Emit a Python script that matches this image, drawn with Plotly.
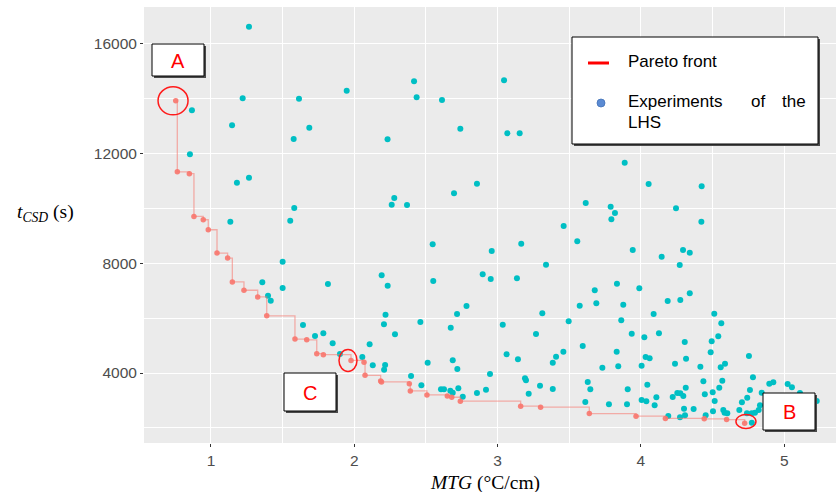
import plotly.graph_objects as go

# ---------------- data ----------------
pareto_mtg = [0.754, 0.765, 0.849, 0.881, 0.946, 0.981, 1.042, 1.116, 1.149, 1.230,
              1.326, 1.389, 1.586, 1.668, 1.738, 1.784, 1.977, 2.068, 2.075, 2.184,
              2.190, 2.384, 2.391, 2.507, 2.649, 2.680, 2.740, 3.161, 3.300, 3.640,
              3.966, 4.171, 4.442, 4.598, 4.724]
pareto_t = [13927, 11335, 11270, 9709, 9589, 9225, 8375, 8193, 7320, 7018,
            6775, 6084, 5236, 5211, 4703, 4667, 4460, 4389, 3916, 3709,
            3673, 3611, 3345, 3200, 3164, 3116, 2971, 2789, 2753, 2520,
            2425, 2345, 2330, 2302, 2171]

lhs_mtg = [1.265, 1.221, 1.614, 0.867, 1.147, 1.686, 1.577, 0.853, 1.265,
           1.181, 1.581, 1.553, 1.135, 1.500, 1.358, 1.500, 1.816, 1.398, 1.417,
           1.642, 1.784, 1.726, 1.849, 1.900,
           2.261, 2.368, 2.279, 2.547, 2.959, 3.165, 2.191, 2.233, 2.551, 2.896,
           2.952, 3.135, 2.783, 2.218, 2.717, 2.207, 2.461, 2.673, 3.036, 2.284,
           2.107, 2.056, 2.129, 2.215, 2.208, 2.512, 2.687, 2.719, 3.063, 3.142,
           2.947, 3.191, 3.198, 2.396, 2.468, 2.605, 2.626, 2.670, 2.687, 2.726,
           2.757, 2.856, 2.919, 3.217,
           1.947, 2.417, 2.435, 2.612, 3.045, 2.740, 2.232, 3.068, 3.154, 3.887,
           2.856, 2.696,
           4.054, 4.424, 3.789, 3.819, 3.794, 4.245, 4.422, 3.943, 4.294, 4.341,
           4.145, 4.271, 3.833, 3.989, 4.341, 3.877, 4.187, 4.275,
           3.615, 3.461, 3.556, 3.338, 3.678, 3.573, 3.689, 3.312, 3.496, 3.863,
           4.089, 4.512, 4.561, 3.268, 3.936, 4.024, 4.126, 4.540, 4.494, 4.306,
           3.594, 3.459, 3.408, 3.385, 3.831, 4.033, 4.061, 4.315, 4.487, 3.731,
           3.842, 4.005, 4.238, 4.415, 4.557, 4.587, 3.296, 3.385, 3.629, 3.647,
           3.908, 4.045, 4.436, 4.568, 4.547, 4.501, 4.446, 4.313, 4.254, 4.275,
           4.296, 4.222, 4.005, 4.038, 4.108, 4.096, 3.612, 3.777, 3.903, 4.515,
           4.301, 4.368, 4.308, 4.191, 4.273, 4.452, 4.503, 4.575, 4.584, 4.603,
           4.754, 4.782, 4.761, 4.742, 4.705, 4.843, 4.896, 4.924, 5.024, 5.054,
           5.110, 4.831, 4.822, 4.796, 4.773, 4.740, 4.687, 4.774, 5.227]
lhs_t = [16630, 14018, 14004, 13580, 13033, 12946, 12534, 11976, 11123,
         10940, 10018, 9554, 9518, 8059, 7308, 7100, 7246, 6819, 6637,
         5751, 5448, 5349, 5083, 4693,
         10138, 10127, 10382, 8694, 8449, 8716, 7563, 7184, 7355, 7600,
         7428, 7454, 6443, 6126, 6152, 5775, 5860, 5653, 5762, 5411,
         5047, 4583, 4281, 4292, 4121, 4376, 4462, 4146, 4681, 4500,
         3964, 3807, 3734, 3891, 3551, 3405, 3405, 3355, 3282, 3442,
         3136, 3271, 3391, 3245,
         14295, 14638, 14055, 13956, 14675, 12910, 12523, 12742, 12742, 11670,
         10904, 10553,
         10893, 10809, 10065, 9835, 9605, 10006, 9518, 8486, 8486, 8387,
         8242, 7939, 7257, 7089, 6907, 6491, 6626, 6662,
         10200, 9361, 8803, 7950, 7016, 6455, 6540, 6177, 5885, 5921,
         6152, 6163, 5812, 5422, 5433, 5302, 5448, 5338, 5156, 5131,
         4985, 4777, 4595, 4376, 4777, 4583, 4536, 4522, 4755, 4193,
         4244, 4266, 4339, 4230, 4208, 4339, 3537, 3416, 3672, 3405,
         3405, 3573, 3697, 3719, 3464, 3296, 3223, 3464, 3271, 3260,
         3161, 3125, 3015, 2968, 3114, 2822, 2942, 2858, 2858, 2979,
         2698, 2687, 2457, 2432, 2384, 2457, 2603, 2651, 2552, 2530,
         4620, 3843, 3380, 3099, 2931, 3282, 3610, 3661, 3599, 3478,
         3271, 2822, 2651, 2552, 2530, 2530, 2651, 2190, 2979]

x_ticks = [1, 2, 3, 4, 5]
y_ticks = [4000, 8000, 12000, 16000]
x_range = [0.5325, 5.3615]
y_range = [1447, 17348]

marked_idx = {"A": 0, "C": 16, "B": 34}

# ---------------- layout helpers ----------------
W, H = 836, 492
ML, MT, MR, MB = 144, 7, 0, 49
PW, PH = W - ML - MR, H - MT - MB


def px(x):
    return (x - ML) / PW


def py(y):
    return (H - MB - y) / PH


fig = go.Figure()

fig.add_trace(go.Scatter(
    x=lhs_mtg, y=lhs_t, mode="markers",
    marker=dict(color="#00BFC4", size=6, line=dict(width=0)),
    showlegend=False, hoverinfo="x+y"))

fig.add_trace(go.Scatter(
    x=pareto_mtg, y=pareto_t, mode="lines", line_shape="hv",
    line=dict(color="rgba(248,118,109,0.55)", width=1.3),
    showlegend=False, hoverinfo="skip"))

fig.add_trace(go.Scatter(
    x=pareto_mtg, y=pareto_t, mode="markers",
    marker=dict(color="rgba(248,118,109,0.9)", size=5.5, line=dict(width=0)),
    showlegend=False, hoverinfo="x+y"))

shapes = []


def box(x0, y0, x1, y1, shadow=2):
    shapes.append(dict(type="rect", xref="paper", yref="paper",
                       x0=px(x0 + shadow), x1=px(x1 + shadow),
                       y0=py(y0 + shadow), y1=py(y1 + shadow),
                       fillcolor="#4a4a4a", line=dict(width=0), layer="above"))
    shapes.append(dict(type="rect", xref="paper", yref="paper",
                       x0=px(x0), x1=px(x1), y0=py(y0), y1=py(y1),
                       fillcolor="white", line=dict(color="black", width=1),
                       layer="above"))


# legend box
box(572, 37, 818, 144)
shapes.append(dict(type="line", xref="paper", yref="paper",
                   x0=px(588), x1=px(609), y0=py(63), y1=py(63),
                   line=dict(color="#FF0000", width=3), layer="above"))
shapes.append(dict(type="circle", xref="paper", yref="paper",
                   x0=px(597), x1=px(605), y0=py(99), y1=py(107),
                   fillcolor="#5B8BD3", line=dict(color="#4372B8", width=0.8),
                   layer="above"))

# label boxes
box(152, 44, 204, 76)
box(284, 373, 336, 411)
box(763, 393, 815, 430)

# circles around marked pareto points (pixel sized, anchored on data)
circ = {"A": (-17.7, 12.3, -14, 14), "C": (-12, 6, -11, 11), "B": (-8.7, 11.3, -8.7, 5.3)}
for k, (ax0, ax1, ay0, ay1) in circ.items():
    i = marked_idx[k]
    shapes.append(dict(type="circle", xref="x", yref="y",
                       xsizemode="pixel", ysizemode="pixel",
                       xanchor=pareto_mtg[i], yanchor=pareto_t[i],
                       x0=ax0, x1=ax1, y0=-ay1, y1=-ay0,
                       line=dict(color="#FF1A1A", width=1.5), layer="above"))

annotations = []


def txt(s, x, y, size=17, color="black", xanchor="left", family="Liberation Sans"):
    annotations.append(dict(text=s, x=px(x), y=py(y), xref="paper", yref="paper",
                            xanchor=xanchor, yanchor="middle", showarrow=False,
                            font=dict(family=family, size=size, color=color)))


txt("Pareto front", 626, 62)
txt("Experiments", 626, 101)
txt("of", 749, 101)
txt("the", 780, 101)
txt("LHS", 626, 123)

txt("A", 178, 61, size=20, color="#FF0000", xanchor="center")
txt("C", 310, 393, size=20, color="#FF0000", xanchor="center")
txt("B", 789, 412, size=20, color="#FF0000", xanchor="center")

txt("<i>t</i><sub><i>CSD</i></sub> (s)", 45, 213, size=19.5, xanchor="center",
    family="Liberation Serif")
txt("<i>MTG</i> (°C/cm)", 485, 483, size=19.5, xanchor="center",
    family="Liberation Serif")

fig.update_layout(
    width=W, height=H,
    margin=dict(l=ML, r=MR, t=MT, b=MB, pad=0),
    paper_bgcolor="white", plot_bgcolor="#EBEBEB",
    shapes=shapes, annotations=annotations,
    showlegend=False,
    font=dict(family="Liberation Sans"),
)

fig.update_xaxes(range=x_range, tickmode="array", tickvals=x_ticks,
                 ticktext=[str(v) for v in x_ticks],
                 showgrid=True, gridcolor="white", gridwidth=1.1,
                 minor=dict(dtick=0.5, tick0=0.5, showgrid=True, gridcolor="white",
                            gridwidth=0.5, ticklen=0),
                 ticks="outside", ticklen=3, tickcolor="#333333", tickwidth=1,
                 tickfont=dict(family="Liberation Sans", size=15.5, color="#4D4D4D"),
                 zeroline=False, showline=False)
fig.update_yaxes(range=y_range, tickmode="array", tickvals=y_ticks,
                 ticktext=[str(v) for v in y_ticks],
                 showgrid=True, gridcolor="white", gridwidth=1.1,
                 minor=dict(dtick=2000, tick0=0, showgrid=True, gridcolor="white",
                            gridwidth=0.5, ticklen=0),
                 ticks="outside", ticklen=3, tickcolor="#333333", tickwidth=1,
                 tickfont=dict(family="Liberation Sans", size=15.5, color="#4D4D4D"),
                 zeroline=False, showline=False)

fig.write_html("out.html",
               config={"displayModeBar": False},
               post_script="document.body.style.margin='0px';"
                           "document.body.style.overflow='hidden';")
